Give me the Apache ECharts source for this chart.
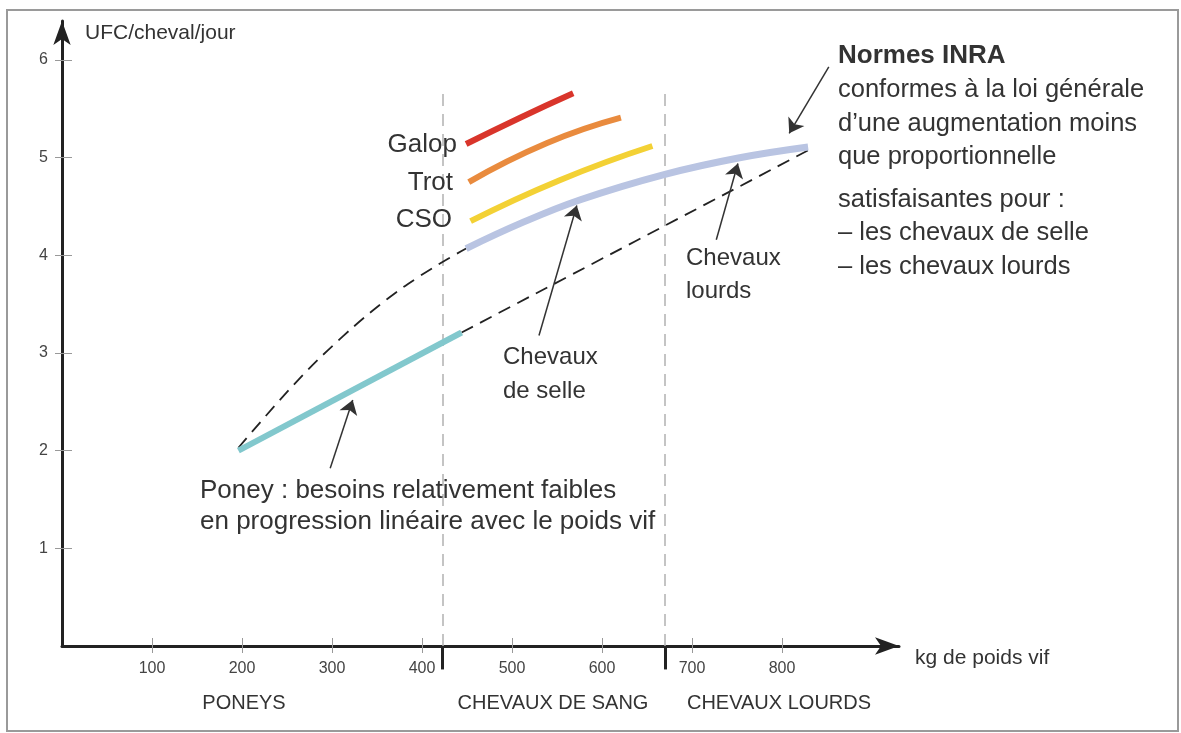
<!DOCTYPE html>
<html>
<head>
<meta charset="utf-8">
<script src="https://cdn.jsdelivr.net/npm/echarts@6/dist/echarts.min.js"></script>
<style>
html,body{margin:0;padding:0;background:#fff;}
#c{width:1181px;height:733px;}
</style>
</head>
<body>
<div id="c"></div>
<script>
// ---- data (kg de poids vif, UFC/cheval/jour) ----
const xTickValues = [100, 200, 300, 400, 500, 600, 700, 800];
const yTickValues = [1, 2, 3, 4, 5, 6];
const poney = [[196, 2.0], [444, 3.21]];
const lowerDashed = [[444, 3.21], [830, 5.08]];
const upperDashed = [[196, 2.03], [260, 2.70], [312, 3.17], [361, 3.55], [398, 3.79], [428, 3.96], [449, 4.07]];
const selleLourds = [[449, 4.07], [510, 4.33], [576, 4.57], [670, 4.83], [753, 5.0], [829, 5.11]];
const galop = [[449, 5.14], [509, 5.41], [568, 5.66]];
const trot = [[452, 4.75], [539, 5.15], [621, 5.41]];
const cso = [[454, 4.35], [553, 4.77], [656, 5.12]];
const separators = [423, 670];
const separatorTop = 5.7;
const separatorBottom = -0.24;
const arrowSelle = [[530, 3.18], [572, 4.51]];
const arrowLourds = [[727, 4.16], [751, 4.94]];
const arrowInra = [[852, 5.93], [808, 5.25]];
const arrowPoney = [[298, 1.82], [323, 2.52]];
const zoneLabels = ['PONEYS', 'CHEVAUX DE SANG', 'CHEVAUX LOURDS'];

const FONT = '"Liberation Sans", Arial, sans-serif';
const TXT = '#333';

const chart = echarts.init(document.getElementById('c'), null, {renderer: 'canvas'});

function curve(data, color, width, smooth) {
  return {type: 'line', data: data, smooth: smooth === undefined ? true : smooth, showSymbol: false, silent: true,
    lineStyle: {color: color, width: width, cap: 'butt'}, z: 5};
}
function dashed(data) {
  return {type: 'line', data: data, smooth: 0.4, showSymbol: false, silent: true,
    lineStyle: {color: '#222', width: 1.8, type: [13, 8]}, z: 4};
}
function arrow(coords) {
  return {coords: coords};
}
function txt(text, x, y, size, align, bold) {
  return {type: 'text', x: x, y: y, silent: true, z: 20,
    style: {text: text, font: (bold ? 'bold ' : '') + size + 'px ' + FONT, fill: TXT,
      textAlign: align || 'left', textVerticalAlign: 'middle'}};
}

const baseX = {type: 'value', min: 0, max: 930, interval: 100, splitLine: {show: false}};
const baseY = {type: 'value', min: 0, max: 6.4, interval: 1, splitLine: {show: false}};

const option = {
  animation: false,
  grid: {left: 62, top: 21, width: 837, height: 625, containLabel: false},
  xAxis: [
    Object.assign({}, baseX, {
      axisLine: {lineStyle: {color: '#222', width: 3}, symbol: ['none', 'arrow'], symbolSize: [13, 24], symbolOffset: [0, 0]},
      axisTick: {show: true, inside: false, length: 7, lineStyle: {color: '#999', width: 1}, customValues: xTickValues},
      axisLabel: {show: true, margin: 15, color: '#444', fontSize: 16, fontFamily: FONT, customValues: xTickValues}
    }),
    Object.assign({}, baseX, {
      position: 'bottom',
      axisLine: {show: false},
      axisTick: {show: true, inside: true, length: 8, lineStyle: {color: '#999', width: 1}, customValues: xTickValues},
      axisLabel: {show: false}
    })
  ],
  yAxis: [
    Object.assign({}, baseY, {
      axisLine: {show: true, lineStyle: {color: '#222', width: 3}, symbol: ['none', 'arrow'], symbolSize: [13, 24], symbolOffset: [0, 0]},
      axisTick: {show: true, inside: false, length: 7, lineStyle: {color: '#999', width: 1}, customValues: yTickValues},
      axisLabel: {show: true, margin: 14, color: '#444', fontSize: 16, fontFamily: FONT, customValues: yTickValues}
    }),
    Object.assign({}, baseY, {
      position: 'left',
      axisLine: {show: false},
      axisTick: {show: true, inside: true, length: 10, lineStyle: {color: '#999', width: 1}, customValues: yTickValues},
      axisLabel: {show: false}
    })
  ],
  series: [
    // vertical dashed zone separators
    {type: 'lines', coordinateSystem: 'cartesian2d', silent: true, z: 2,
      data: separators.map(v => ({coords: [[v, 0], [v, separatorTop]]})),
      lineStyle: {color: '#b0b0b0', width: 1.5, type: [12, 8], opacity: 1}},
    // thick black separators below the axis
    {type: 'lines', coordinateSystem: 'cartesian2d', silent: true, clip: false, z: 3,
      data: separators.map(v => ({coords: [[v, 0], [v, separatorBottom]]})),
      lineStyle: {color: '#222', width: 3, opacity: 1}},
    dashed(upperDashed),
    dashed(lowerDashed),
    curve(poney, '#82c8cd', 6, false),
    curve(selleLourds, '#b9c4e2', 7, 0.4),
    curve(cso, '#f3d135', 6),
    curve(trot, '#e98b3e', 6),
    curve(galop, '#d9352b', 6),
    // annotation arrows
    {type: 'lines', coordinateSystem: 'cartesian2d', silent: true, z: 6,
      symbol: ['none', 'arrow'], symbolSize: [9, 14],
      data: [arrow(arrowSelle), arrow(arrowLourds), arrow(arrowInra), arrow(arrowPoney)],
      lineStyle: {color: '#333', width: 1.5, opacity: 1, curveness: 0}}
  ],
  graphic: [
    {type: 'rect', shape: {x: 7, y: 10, width: 1171, height: 721}, silent: true, z: 0,
      style: {fill: 'none', stroke: '#9a9a9a', lineWidth: 2}},
    txt('UFC/cheval/jour', 85, 33, 21),
    txt('kg de poids vif', 915, 658, 21),
    txt(zoneLabels[0], 244, 703, 20, 'center'),
    txt(zoneLabels[1], 553, 703, 20, 'center'),
    txt(zoneLabels[2], 779, 703, 20, 'center'),
    txt('Galop', 457, 145, 26, 'right'),
    txt('Trot', 453, 183, 26, 'right'),
    txt('CSO', 452, 220, 26, 'right'),
    txt('Chevaux', 503, 357, 24),
    txt('de selle', 503, 391, 24),
    txt('Chevaux', 686, 258, 24),
    txt('lourds', 686, 291, 24),
    txt('Normes INRA', 838, 56, 26, 'left', true),
    txt('conformes à la loi générale', 838, 90, 25.5),
    txt('d\u2019une augmentation moins', 838, 124, 25.5),
    txt('que proportionnelle', 838, 157, 25.5),
    txt('satisfaisantes pour :', 838, 200, 25.5),
    txt('\u2013 les chevaux de selle', 838, 233, 25.5),
    txt('\u2013 les chevaux lourds', 838, 267, 25.5),
    txt('Poney : besoins relativement faibles', 200, 491, 26),
    txt('en progression linéaire avec le poids vif', 200, 522, 26)
  ]
};
chart.setOption(option);
</script>
</body>
</html>
